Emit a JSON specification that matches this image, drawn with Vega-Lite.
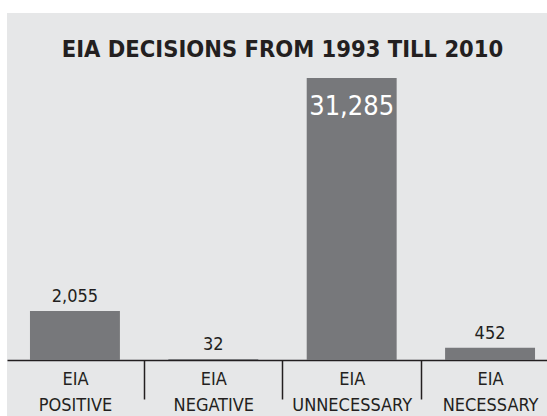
{
  "$schema": "https://vega.github.io/schema/vega-lite/v6.json",
  "width": 551,
  "height": 403,
  "autosize": {"type": "none"},
  "padding": {"left": 7, "top": 13, "right": 0, "bottom": 0},
  "background": "white",
  "view": {"fill": "#e6e7e8", "stroke": null},
  "title": {
    "text": "EIA DECISIONS FROM 1993 TILL 2010",
    "font": "DejaVu Sans Condensed, DejaVu Sans, sans-serif",
    "fontSize": 23.5,
    "fontWeight": "bold",
    "color": "#231f20",
    "anchor": "middle",
    "frame": "group",
    "baseline": "alphabetic",
    "offset": -67
  },
  "data": {
    "values": [
      {"decision": "EIA POSITIVE", "count": 2055},
      {"decision": "EIA NEGATIVE", "count": 32},
      {"decision": "EIA UNNECESSARY", "count": 31285},
      {"decision": "EIA NECESSARY", "count": 452}
    ]
  },
  "encoding": {
    "x": {
      "field": "decision",
      "type": "nominal",
      "sort": null,
      "scale": {"paddingInner": 0.35, "paddingOuter": 0.166},
      "axis": {
        "orient": "bottom",
        "title": null,
        "offset": -56,
        "domainColor": "#231f20",
        "domainWidth": 1.5,
        "bandPosition": 1,
        "tickOffset": 24,
        "labelOffset": -24,
        "tickColor": "#231f20",
        "tickWidth": 1.5,
        "tickSize": 39,
        "labelAngle": 0,
        "labelFont": "DejaVu Sans Condensed, DejaVu Sans, sans-serif",
        "labelFontSize": 18,
        "labelColor": "#231f20",
        "labelLineHeight": 26,
        "labelPadding": -29,
        "labelBaseline": "top",
        "labelLimit": 300,
        "labelExpr": "split(datum.label, ' ')"
      }
    },
    "y": {
      "field": "count",
      "type": "quantitative",
      "scale": {"type": "symlog", "constant": 5000, "domain": [-2411, 52296], "nice": false, "zero": false},
      "axis": null
    }
  },
  "layer": [
    {
      "mark": {"type": "bar", "color": "#77787b"},
      "encoding": {"y2": {"datum": 0}}
    },
    {
      "transform": [{"filter": "datum.count < 30000"}],
      "mark": {
        "type": "text",
        "baseline": "alphabetic",
        "dy": -9,
        "fontSize": 18,
        "font": "DejaVu Sans Condensed, DejaVu Sans, sans-serif",
        "color": "#231f20"
      },
      "encoding": {"text": {"field": "count", "type": "quantitative", "format": ","}}
    },
    {
      "transform": [{"filter": "datum.count >= 30000"}],
      "mark": {
        "type": "text",
        "baseline": "alphabetic",
        "dy": 37,
        "fontSize": 27,
        "font": "DejaVu Sans Condensed, DejaVu Sans, sans-serif",
        "color": "white"
      },
      "encoding": {"text": {"field": "count", "type": "quantitative", "format": ","}}
    }
  ]
}
